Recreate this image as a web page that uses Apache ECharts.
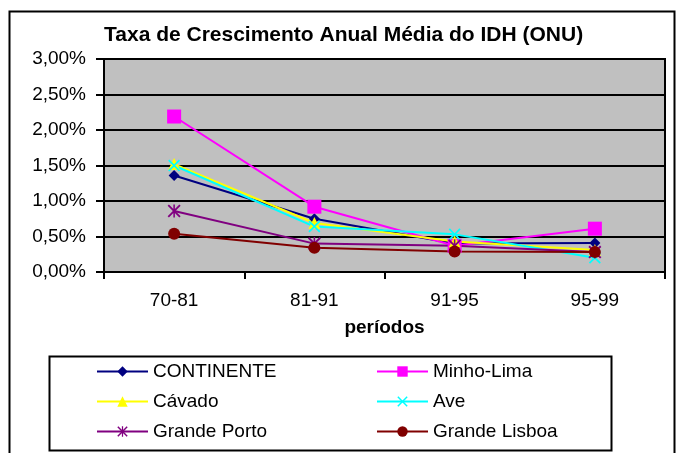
<!DOCTYPE html>
<html>
<head>
<meta charset="utf-8">
<script src="https://cdn.jsdelivr.net/npm/echarts@6/dist/echarts.min.js"></script>
<style>
html,body{margin:0;padding:0;background:#fff;}
#c{width:678px;height:453px;}
</style>
</head>
<body>
<div id="c"></div>
<script>
const categories = ['70-81', '81-91', '91-95', '95-99'];
const yTicks = [0, 0.5, 1, 1.5, 2, 2.5, 3];
const continente = [1.36, 0.75, 0.40, 0.41];
const minhoLima = [2.19, 0.92, 0.37, 0.61];
const cavado = [1.52, 0.69, 0.43, 0.31];
const ave = [1.50, 0.64, 0.53, 0.20];
const grandePorto = [0.86, 0.40, 0.37, 0.28];
const grandeLisboa = [0.54, 0.34, 0.29, 0.28];

const FONT = 'Liberation Sans';
const xPath = 'path://M0,1L1,0L5,4L9,0L10,1L6,5L10,9L9,10L5,6L1,10L0,9L4,5Z';
const starPath = 'path://M0,1L1,0L5,4L9,0L10,1L6,5L10,9L9,10L5,6L1,10L0,9L4,5Z M4.4,0L5.6,0L5.6,10L4.4,10Z';

function mk(name, data, color, symbol, size) {
  return {
    name: name, type: 'line', data: data,
    symbol: symbol, symbolSize: size,
    lineStyle: {color: color, width: 2},
    itemStyle: {color: color},
    emphasis: {disabled: true},
    animation: false
  };
}

const legendText = {fontFamily: FONT, fontSize: 19, color: '#000', lineHeight: 18};

const chart = echarts.init(document.getElementById('c'), null, {renderer: 'canvas'});
chart.setOption({
  animation: false,
  title: {
    text: 'Taxa de Crescimento Anual Média do IDH (ONU)',
    left: 104, top: 25, padding: 0,
    textStyle: {fontFamily: FONT, fontWeight: 'bold', fontSize: 21, color: '#000'}
  },
  grid: {
    left: 104, top: 59, width: 561, height: 213,
    show: true, backgroundColor: '#c0c0c0', borderColor: '#000', borderWidth: 2
  },
  xAxis: {
    type: 'category', data: categories, boundaryGap: true,
    axisLine: {lineStyle: {color: '#000', width: 2}},
    axisTick: {show: true, length: 7, lineStyle: {color: '#000', width: 2}},
    axisLabel: {fontFamily: FONT, fontSize: 19, color: '#000', margin: 19},
    name: 'períodos', nameLocation: 'middle', nameGap: 46,
    nameTextStyle: {fontFamily: FONT, fontWeight: 'bold', fontSize: 19, color: '#000'}
  },
  yAxis: {
    type: 'value', min: 0, max: 3, interval: 0.5,
    axisLine: {show: true, lineStyle: {color: '#000', width: 2}},
    axisTick: {show: true, length: 8, lineStyle: {color: '#000', width: 2}},
    splitLine: {show: true, lineStyle: {color: '#000', width: 2}},
    axisLabel: {
      fontFamily: FONT, fontSize: 19, color: '#000', margin: 18,
      formatter: v => yTicks.includes(v) ? v.toFixed(2).replace('.', ',') + '%' : ''
    }
  },
  legend: [
    {
      data: ['CONTINENTE', 'Cávado', 'Grande Porto'],
      orient: 'vertical', left: 96, top: 362, padding: 0,
      itemWidth: 51, itemHeight: 13, itemGap: 11,
      textStyle: legendText, selectedMode: false
    },
    {
      data: ['Minho-Lima', 'Ave', 'Grande Lisboa'],
      orient: 'vertical', left: 376, top: 362, padding: 0,
      itemWidth: 51, itemHeight: 13, itemGap: 11,
      textStyle: legendText, selectedMode: false
    }
  ],
  graphic: [
    {type: 'rect', left: 7, top: 9, shape: {x: 0, y: 0, width: 665, height: 470},
     style: {fill: 'none', stroke: '#000', lineWidth: 2}, silent: true, z: 100},
    {type: 'rect', left: 47, top: 354, shape: {x: 0, y: 0, width: 562, height: 94},
     style: {fill: 'none', stroke: '#000', lineWidth: 2}, silent: true, z: 100}
  ],
  series: [
    mk('CONTINENTE', continente, '#000080', 'diamond', 11),
    mk('Minho-Lima', minhoLima, '#ff00ff', 'rect', 14),
    mk('Cávado', cavado, '#ffff00', 'triangle', 12),
    mk('Ave', ave, '#00ffff', xPath, 12),
    mk('Grande Porto', grandePorto, '#800080', starPath, 13),
    mk('Grande Lisboa', grandeLisboa, '#800000', 'circle', 12)
  ]
});
</script>
</body>
</html>
